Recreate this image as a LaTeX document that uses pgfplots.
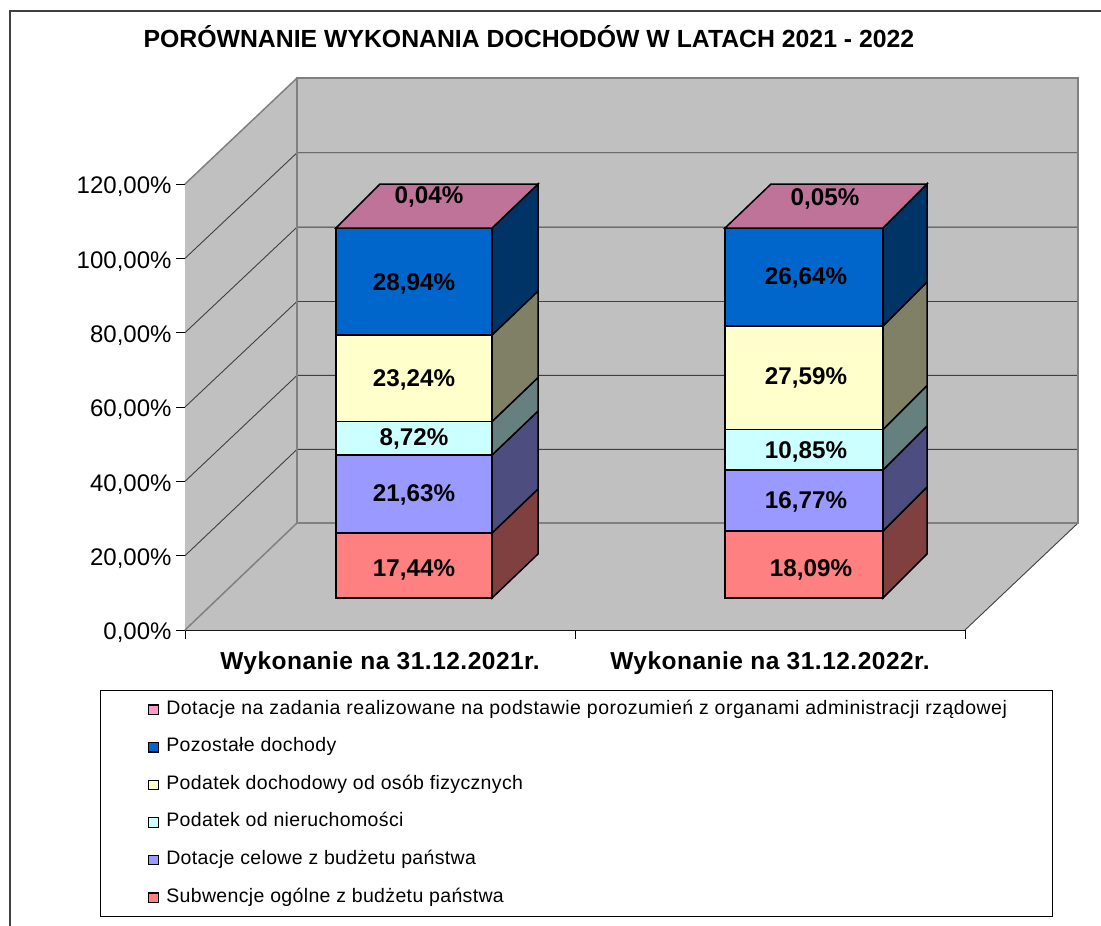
\documentclass[border=0pt]{standalone}
\usepackage{fontspec}
\setmainfont{Liberation Sans}
\newfontfamily\legfont[LetterSpace=1.8]{Liberation Sans}
\newfontfamily\leglong[LetterSpace=2.5]{Liberation Sans}
\newfontfamily\catfont[LetterSpace=2]{Liberation Sans}
\usepackage{pgfplots}
\pgfplotsset{compat=1.18}
\definecolor{wall}{HTML}{C0C0C0}
\definecolor{edge}{HTML}{808080}
\definecolor{gridc}{HTML}{404040}
\definecolor{redF}{HTML}{FF8080}\definecolor{redS}{HTML}{804040}
\definecolor{vioF}{HTML}{9999FF}\definecolor{vioS}{HTML}{4D4D80}
\definecolor{cyaF}{HTML}{CCFFFF}\definecolor{cyaS}{HTML}{668080}
\definecolor{yelF}{HTML}{FFFFCC}\definecolor{yelS}{HTML}{808066}
\definecolor{bluF}{HTML}{0066CC}\definecolor{bluS}{HTML}{003366}
\definecolor{pinF}{HTML}{FF99CC}\definecolor{pinT}{HTML}{BF7399}
\newcommand{\face}[2]{\addplot[draw=black,line width=1.5pt,fill=#1,forget plot,line join=miter] coordinates {#2} --cycle;}
\newcommand{\gline}[1]{\addplot[draw=gridc,line width=0.9pt,forget plot] coordinates {#1};}
\newcommand{\eline}[1]{\addplot[draw=edge,line width=1.5pt,forget plot] coordinates {#1};}
\newcommand{\legsq}[1]{\draw[draw=black,line width=1.2pt,fill=#1] (0pt,-4.7pt) rectangle (9.5pt,4.7pt); \path (-48pt,0pt) (17pt,0pt);}
\begin{document}
\begin{tikzpicture}
\path[use as bounding box] (0pt,0pt) rectangle (1101pt,-926pt);
\draw[color=gridc,line width=1.3pt] (10pt,-926pt) -- (10pt,-11pt) -- (1101pt,-11pt);
\begin{axis}[
    at={(185pt,-630pt)}, anchor=south west,
    scale only axis, width=780pt, height=446pt,
    xmin=185, xmax=965, ymin=0, ymax=120,
    clip=false,
    axis lines*=left,
    axis line style={draw=black,line width=1pt},
    ytick={0,20,40,60,80,100,120},
    yticklabel={\pgfmathprintnumber{\tick}\%},
    /pgf/number format/.cd,fixed,fixed zerofill,precision=2,use comma,assume math mode=true,
    /pgfplots/.cd,
    xtick={380,770},
    xticklabels={Wykonanie na 31.12.2021r.,Wykonanie na 31.12.2022r.},
    minor xtick={185,575,965},
    tick align=outside,
    tick pos=left,
    major tick length=9pt,
    minor tick length=9pt,
    minor x tick style={draw=black,line width=1pt},
    y tick style={draw=black,line width=1pt},
    xtick style={draw=none},
    every x tick label/.append style={font=\fontsize{24.5}{26}\catfont\bfseries,yshift=-9pt},
    every y tick label/.append style={font=\fontsize{24}{26}\selectfont,xshift=-1pt,yshift=-3pt},
    title={POR\'OWNANIE WYKONANIA DOCHOD\'OW W LATACH 2021 - 2022},
    title style={at={(axis description cs:0.441,1.316)},anchor=center,font=\fontsize{24.8}{26}\selectfont\bfseries},
    legend style={at={(axis description cs:-0.109,-0.1345)},anchor=north west,draw=black,line width=0.9pt,
        inner xsep=0pt,inner ysep=10.7pt,row sep=20.6pt,
        font=\fontsize{19.5}{21}\legfont,
        nodes={inner sep=0pt,text height=13pt,text depth=4pt}},
    legend cell align=left,
]
% walls and floor
\addplot[fill=wall,draw=none,forget plot] coordinates {(185,0)(297,28.79)(297,148.5)(185,120)} --cycle;
\addplot[fill=wall,draw=none,forget plot] coordinates {(297,28.79)(1078,28.79)(1078,148.5)(297,148.5)} --cycle;
\addplot[fill=wall,draw=none,forget plot] coordinates {(185,0)(965,0)(1078,28.79)(297,28.79)} --cycle;
% gridlines
\gline{(185,20)(297,48.6)(1078,48.6)}
\gline{(185,40)(297,68.5)(1078,68.5)}
\gline{(185,60)(297,88.4)(1078,88.4)}
\gline{(185,80)(297,108.4)(1078,108.4)}
\gline{(185,100)(297,128.4)(1078,128.4)}
\gline{(965,0)(1078,28.79)}
\eline{(185,0)(297,28.79)}
\eline{(297,28.79)(1078,28.79)(1078,148.5)(297,148.5)(297,28.79)}
\eline{(185,120)(297,148.5)}
% bar 1
\face{redS}{(492,8.61)(538,20.45)(538,37.94)(492,26.10)}
\face{vioS}{(492,26.10)(538,37.94)(538,58.92)(492,47.08)}
\face{cyaS}{(492,47.08)(538,58.92)(538,67.93)(492,56.09)}
\face{yelS}{(492,56.09)(538,67.93)(538,91.20)(492,79.36)}
\face{bluS}{(492,79.36)(538,91.20)(538,119.99)(492,108.15)}
\face{redF}{(336,8.61)(492,8.61)(492,26.10)(336,26.10)}
\face{vioF}{(336,26.10)(492,26.10)(492,47.08)(336,47.08)}
\face{cyaF}{(336,47.08)(492,47.08)(492,56.09)(336,56.09)}
\face{yelF}{(336,56.09)(492,56.09)(492,79.36)(336,79.36)}
\face{bluF}{(336,79.36)(492,79.36)(492,108.15)(336,108.15)}
\face{pinT}{(336,108.15)(492,108.15)(538,119.99)(380,119.99)}
% bar 2
\face{redS}{(883,8.61)(927,20.45)(927,38.47)(883,26.63)}
\face{vioS}{(883,26.63)(927,38.47)(927,54.89)(883,43.05)}
\face{cyaS}{(883,43.05)(927,54.89)(927,65.78)(883,53.94)}
\face{yelS}{(883,53.94)(927,65.78)(927,93.63)(883,81.79)}
\face{bluS}{(883,81.79)(927,93.63)(927,119.99)(883,108.15)}
\face{redF}{(725,8.61)(883,8.61)(883,26.63)(725,26.63)}
\face{vioF}{(725,26.63)(883,26.63)(883,43.05)(725,43.05)}
\face{cyaF}{(725,43.05)(883,43.05)(883,53.94)(725,53.94)}
\face{yelF}{(725,53.94)(883,53.94)(883,81.79)(725,81.79)}
\face{bluF}{(725,81.79)(883,81.79)(883,108.15)(725,108.15)}
\face{pinT}{(725,108.15)(883,108.15)(927,119.99)(771,119.99)}
% value labels
\addplot[draw=none,mark=none,forget plot,point meta=explicit symbolic,nodes near coords,
    nodes near coords style={anchor=center,inner sep=0pt,text=black,yshift=-2pt,font=\fontsize{24.2}{26}\selectfont\bfseries}]
  coordinates {
    (429,117.04)[0,04\%] (414,93.63)[28,94\%] (414,67.80)[23,24\%]
    (414,51.93)[8,72\%] (414,36.86)[21,63\%] (414,16.68)[17,44\%]
    (825,116.50)[0,05\%] (806,95.25)[26,64\%] (806,68.34)[27,59\%]
    (806,48.43)[10,85\%] (806,34.98)[16,77\%] (811,16.68)[18,09\%]
  };
\addlegendimage{legend image code/.code={\legsq{pinF}}}
\addlegendentry{\makebox[886pt][l]{\leglong Dotacje na zadania realizowane na podstawie porozumień z organami administracji rządowej}}
\addlegendimage{legend image code/.code={\legsq{bluF}}}
\addlegendentry{Pozostałe dochody}
\addlegendimage{legend image code/.code={\legsq{yelF}}}
\addlegendentry{Podatek dochodowy od osób fizycznych}
\addlegendimage{legend image code/.code={\legsq{cyaF}}}
\addlegendentry{Podatek od nieruchomości}
\addlegendimage{legend image code/.code={\legsq{vioF}}}
\addlegendentry{Dotacje celowe z budżetu państwa}
\addlegendimage{legend image code/.code={\legsq{redF}}}
\addlegendentry{Subwencje ogólne z budżetu państwa}
\end{axis}
\end{tikzpicture}
\end{document}
